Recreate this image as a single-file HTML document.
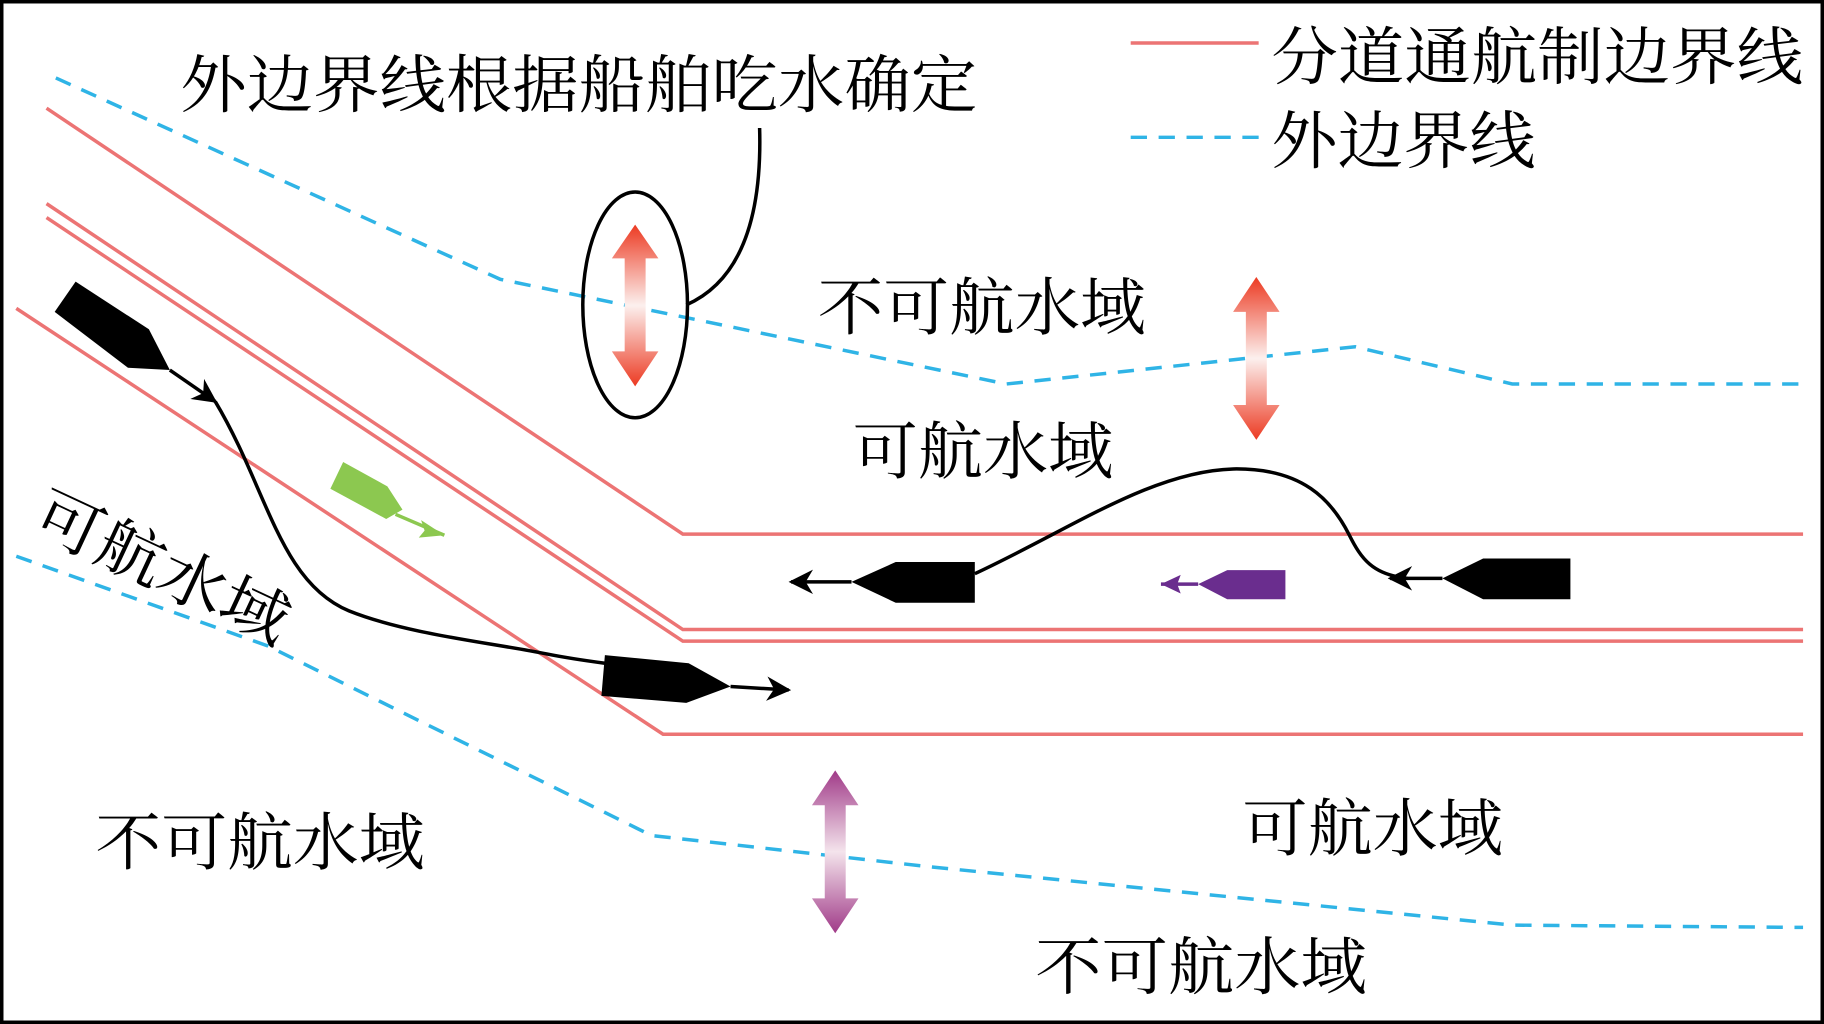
<!DOCTYPE html>
<html><head><meta charset="utf-8"><style>
html,body{margin:0;padding:0;background:#fff;}
svg{display:block;}
text{font-family:"Liberation Serif","Noto Serif CJK SC","Noto Sans CJK SC",serif;fill:#000;}
</style></head><body>
<svg width="1824" height="1024" viewBox="0 0 1568 880" preserveAspectRatio="none" xmlns="http://www.w3.org/2000/svg">
<defs>
<linearGradient id="gr" x1="0" y1="0" x2="0" y2="1">
<stop offset="0" stop-color="#ec3a22"/><stop offset="0.5" stop-color="#fcf0ee"/><stop offset="1" stop-color="#ec3a22"/></linearGradient>
<linearGradient id="gp" x1="0" y1="0" x2="0" y2="1">
<stop offset="0" stop-color="#a03a88"/><stop offset="0.5" stop-color="#f4e4ec"/><stop offset="1" stop-color="#a03a88"/></linearGradient>
<marker id="ah" viewBox="0 0 10 10" refX="9" refY="5" markerWidth="7" markerHeight="7" orient="auto"><path d="M0,0 L10,5 L0,10 L3,5 Z" fill="#000"/></marker>
</defs>
<rect x="1.5" y="1.5" width="1565" height="877" fill="#fff" stroke="#000" stroke-width="3"/>
<g fill="none" stroke="#ec7474" stroke-width="3">
<polyline points="40,93 587,459 1550,459"/>
<polyline points="40,175 587,541 1550,541"/>
<polyline points="40,187 587,551 1550,551"/>
<polyline points="14,265 570,631 1550,631"/>
</g>
<g fill="none" stroke="#2fb4e6" stroke-width="3" stroke-dasharray="14,10">
<polyline points="48,67 430,240 600,275 865,330 1165,298 1300,330 1550,330"/>
<polyline points="14,478 230,555 560,718 800,745 1300,795 1550,797"/>
</g>
<ellipse cx="546" cy="262" rx="45" ry="97" fill="none" stroke="#000" stroke-width="3"/>
<path d="M590,262 C640,240 655,180 653,110" fill="none" stroke="#000" stroke-width="3"/>
<path d="M546,193 L566,222 L555,222 L555,302 L566,302 L546,332 L526,302 L537,302 L537,222 L526,222 Z" fill="url(#gr)"/>
<path d="M1080,238 L1100,268 L1089,268 L1089,348 L1100,348 L1080,378 L1060,348 L1071,348 L1071,268 L1060,268 Z" fill="url(#gr)"/>
<path d="M718,662 L738,692 L727,692 L727,772 L738,772 L718,802 L698,772 L709,772 L709,692 L698,692 Z" fill="url(#gp)"/>
<polygon points="65,242 128,283 146,318 110,316 47,268" fill="#000"/>
<path d="M146,318 L185,345" stroke="#000" stroke-width="3" marker-end="url(#ah)"/>
<path d="M185,345 C230,420 240,500 300,525 C350,545 420,552 470,562 C490,566 505,568 520,570" fill="none" stroke="#000" stroke-width="3"/>
<polygon points="520,563 592,570 628,590 590,604 517,598" fill="#000"/>
<path d="M628,590 L678,593" stroke="#000" stroke-width="3" marker-end="url(#ah)"/>
<polygon points="770,483 838,483 838,518 770,518 732,500" fill="#000"/>
<path d="M732,500 L680,500" stroke="#000" stroke-width="3" marker-end="url(#ah)"/>
<path d="M838,493 C920,455 990,405 1060,403 C1120,402 1145,430 1160,460 C1170,480 1180,494 1210,497" fill="none" stroke="#000" stroke-width="3"/>
<polygon points="1275,480 1350,480 1350,515 1275,515 1240,497" fill="#000"/>
<path d="M1240,497 L1195,497" stroke="#000" stroke-width="3" marker-end="url(#ah)"/>
<polygon points="1055,490 1105,490 1105,515 1055,515 1030,502" fill="#6a2d8e"/>
<path d="M1030,502 L998,502" stroke="#6a2d8e" stroke-width="3"/>
<polygon points="998,502 1015,494 1012,502 1015,510" fill="#6a2d8e"/>
<polygon points="295,397 333,418 346,438 332,446 284,420" fill="#8cc850"/>
<path d="M340,442 L382,460" stroke="#8cc850" stroke-width="3"/>
<polygon points="382,460 362,447 365,456 360,462" fill="#8cc850"/>
<line x1="972" y1="37" x2="1082" y2="37" stroke="#ec7474" stroke-width="3"/>
<line x1="972" y1="118" x2="1082" y2="118" stroke="#2fb4e6" stroke-width="3" stroke-dasharray="14,10"/>
<g font-size="54">
<text x="1093" y="68" textLength="457" lengthAdjust="spacingAndGlyphs">分道通航制边界线</text>
<text x="1093" y="140" textLength="227" lengthAdjust="spacingAndGlyphs">外边界线</text>
<text x="155" y="92" textLength="685" lengthAdjust="spacingAndGlyphs">外边界线根据船舶吃水确定</text>
<text x="703" y="283" textLength="282" lengthAdjust="spacingAndGlyphs">不可航水域</text>
<text x="733" y="407" textLength="224" lengthAdjust="spacingAndGlyphs">可航水域</text>
<text x="82" y="743" textLength="283" lengthAdjust="spacingAndGlyphs">不可航水域</text>
<text x="1068" y="731" textLength="224" lengthAdjust="spacingAndGlyphs">可航水域</text>
<text x="890" y="850" textLength="285" lengthAdjust="spacingAndGlyphs">不可航水域</text>
<text transform="translate(25,455) rotate(25)" textLength="235" lengthAdjust="spacingAndGlyphs">可航水域</text>
</g>
</svg>
</body></html>
